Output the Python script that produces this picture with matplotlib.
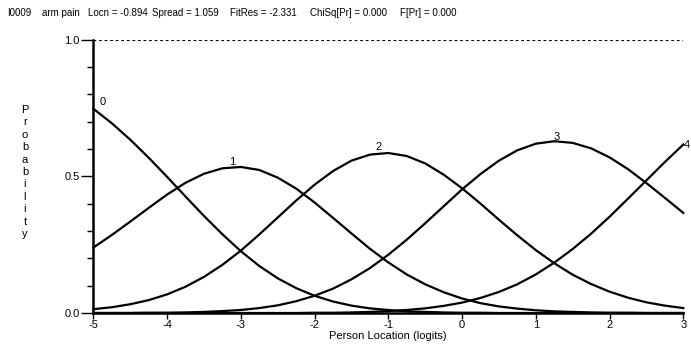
import matplotlib
matplotlib.use("Agg")
import matplotlib.pyplot as plt
from matplotlib.ticker import MultipleLocator

# person location (logits) and category probabilities
location = [-5.0, -4.75, -4.5, -4.25, -4.0, -3.75, -3.5, -3.25, -3.0, -2.75, -2.5,
            -2.25, -2.0, -1.75, -1.5, -1.25, -1.0, -0.75, -0.5, -0.25, 0.0,
            0.25, 0.5, 0.75, 1.0, 1.25, 1.5, 1.75, 2.0, 2.25, 2.5, 2.75, 3.0]

cat0 = [0.747, 0.694, 0.634, 0.568, 0.498, 0.426, 0.355, 0.288, 0.226, 0.172, 0.127,
        0.091, 0.063, 0.042, 0.027, 0.017, 0.011, 0.006, 0.004, 0.002, 0.001,
        0.001, 0.000, 0.000, 0.000, 0.000, 0.000, 0.000, 0.000, 0.000, 0.000, 0.000, 0.000]
cat1 = [0.239, 0.285, 0.334, 0.384, 0.433, 0.476, 0.509, 0.529, 0.534, 0.523, 0.495,
        0.455, 0.404, 0.348, 0.291, 0.235, 0.185, 0.141, 0.105, 0.076, 0.053,
        0.036, 0.024, 0.016, 0.010, 0.006, 0.004, 0.002, 0.001, 0.001, 0.000, 0.000, 0.000]
cat2 = [0.014, 0.021, 0.032, 0.047, 0.068, 0.096, 0.132, 0.176, 0.228, 0.287, 0.349,
        0.411, 0.469, 0.519, 0.557, 0.579, 0.585, 0.574, 0.547, 0.506, 0.456,
        0.400, 0.341, 0.284, 0.230, 0.182, 0.140, 0.106, 0.078, 0.056, 0.039, 0.027, 0.018]
cat3 = [0.000, 0.000, 0.000, 0.001, 0.001, 0.002, 0.004, 0.007, 0.011, 0.018, 0.028,
        0.043, 0.063, 0.089, 0.123, 0.164, 0.213, 0.268, 0.328, 0.390, 0.452,
        0.508, 0.557, 0.595, 0.619, 0.628, 0.622, 0.602, 0.569, 0.526, 0.475, 0.421, 0.366]
cat4 = [0.000, 0.000, 0.000, 0.000, 0.000, 0.000, 0.000, 0.000, 0.000, 0.000, 0.000,
        0.000, 0.001, 0.001, 0.002, 0.004, 0.007, 0.011, 0.017, 0.026, 0.038,
        0.055, 0.077, 0.105, 0.141, 0.184, 0.234, 0.290, 0.352, 0.418, 0.485, 0.552, 0.616]

categories = ["0", "1", "2", "3", "4"]
# where each category number is written
label_x = [-4.87, -3.12, -1.13, 1.28, 3.05]
label_y = [0.77, 0.553, 0.608, 0.645, 0.614]

header = ["I0009", "arm pain", "Locn = -0.894", "Spread = 1.059",
          "FitRes = -2.331", "ChiSq[Pr] = 0.000", "F[Pr] = 0.000"]
header_px = [7, 42, 88, 152, 230, 310, 400]

plt.rcParams['font.family'] = ['Liberation Sans', 'DejaVu Sans']
fs = 7
afs = 8

fig = plt.figure(figsize=(6.91, 3.56), dpi=100)
ax = fig.add_axes([93.3 / 691, 43 / 356, 590 / 691, 273.5 / 356])

for series in [cat0, cat1, cat2, cat3, cat4]:
    ax.plot(location, series, color="black", lw=1.6, clip_on=False)

for name, lx, ly in zip(categories, label_x, label_y):
    ax.text(lx, ly, name, fontsize=afs, ha="center", va="center")

ax.axhline(1.0, color="black", lw=0.8, ls=(0, (2.5, 2.5)))

ax.set_xlim(-5, 3)
ax.set_ylim(0, 1.0)
ax.set_xticks(range(-5, 4))
ax.set_xticklabels([str(v) for v in range(-5, 4)])
ax.set_yticks([0.0, 0.5, 1.0])
ax.set_yticklabels(["0.0", "0.5", "1.0"])
ax.yaxis.set_minor_locator(MultipleLocator(0.1))
ax.tick_params(axis="y", which="major", length=9, width=1, labelsize=afs, pad=1)
ax.tick_params(axis="y", which="minor", length=4, width=1)
ax.tick_params(axis="x", length=4, width=1, labelsize=afs, pad=1)

for side in ["top", "right"]:
    ax.spines[side].set_visible(False)
ax.spines["left"].set_linewidth(1.8)
ax.spines["bottom"].set_linewidth(1.8)

ax.set_xlabel("Person Location (logits)", fontsize=afs, labelpad=1)
fig.text(25 / 691, 1 - 172 / 356, "\n".join("Probability"), fontsize=afs,
         ha="center", va="center", linespacing=1.3)

for txt, px in zip(header, header_px):
    fig.text(px / 691, 1 - 13 / 356, txt, fontsize=fs, ha="left", va="center")

fig.savefig("out.png", dpi=100)
